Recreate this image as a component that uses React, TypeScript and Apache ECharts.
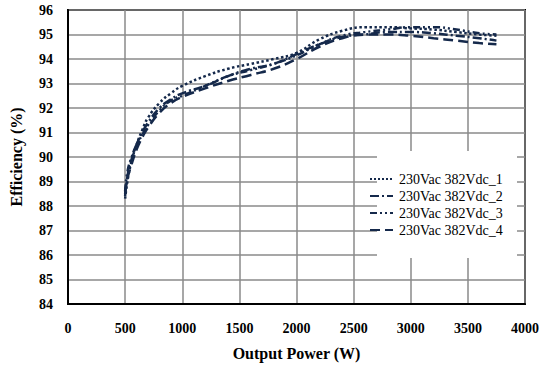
import React, { useEffect, useRef } from "react";
import * as echarts from "echarts";

const powerW = [500, 520, 550, 600, 650, 700, 800, 900, 1000, 1200, 1400, 1600, 1800, 2000, 2200, 2400, 2600, 2800, 3000, 3200, 3400, 3600, 3750];
const eff1 = [88.3, 89.0, 89.7, 90.5, 91.1, 91.6, 92.2, 92.6, 92.9, 93.3, 93.6, 93.8, 94.0, 94.25, 94.8, 95.15, 95.3, 95.3, 95.25, 95.2, 95.1, 95.0, 94.95];
const eff2 = [88.4, 89.2, 89.8, 90.5, 91.0, 91.4, 92.0, 92.35, 92.6, 92.9, 93.3, 93.6, 93.8, 94.2, 94.6, 94.9, 95.0, 95.1, 95.1, 95.05, 94.95, 94.85, 94.75];
const eff3 = [88.6, 89.4, 89.9, 90.5, 90.9, 91.3, 91.9, 92.3, 92.5, 92.9, 93.3, 93.55, 93.8, 94.15, 94.6, 94.95, 95.1, 95.2, 95.3, 95.3, 95.2, 95.05, 95.0];
const eff4 = [88.5, 89.1, 89.6, 90.3, 90.8, 91.2, 91.8, 92.2, 92.45, 92.8, 93.1, 93.35, 93.6, 94.0, 94.5, 94.85, 95.0, 95.0, 94.95, 94.85, 94.75, 94.65, 94.6];
const seriesNames = ["230Vac 382Vdc_1", "230Vac 382Vdc_2", "230Vac 382Vdc_3", "230Vac 382Vdc_4"];

const COLOR = "#15294b";
const FONT = "'Liberation Serif', 'Times New Roman', serif";

export default function App() {
  const ref = useRef<HTMLDivElement>(null);
  useEffect(() => {
    if (!ref.current) return;
    const chart = echarts.init(ref.current, undefined, { renderer: "svg" });
    const all = [eff1, eff2, eff3, eff4];
    const dashTypes: any[] = ["dotted", [9, 3, 2, 3], [7, 3, 2, 3, 2, 3], [10, 5]];
    chart.setOption({
      animation: false,
      textStyle: { fontFamily: FONT },
      grid: { left: 62, right: 25, top: 10, bottom: 54, show: true, borderColor: "#000", borderWidth: 2, backgroundColor: "transparent" },
      xAxis: {
        type: "value",
        min: 0,
        max: 4000,
        interval: 500,
        name: "Output Power (W)",
        nameLocation: "middle",
        nameGap: 41,
        nameTextStyle: { fontFamily: FONT, fontWeight: "bold", fontSize: 16, color: "#000" },
        axisLine: { show: true, lineStyle: { color: "#000", width: 2 } },
        axisTick: { show: false },
        axisLabel: { fontFamily: FONT, fontWeight: "bold", fontSize: 14, color: "#000", margin: 17, formatter: (v: number) => String(v) },
        splitLine: { show: true, lineStyle: { color: "#8a8a8a", width: 1.5 } },
      },
      yAxis: {
        type: "value",
        min: 84,
        max: 96,
        interval: 1,
        name: "Efficiency (%)",
        nameLocation: "middle",
        nameGap: 44,
        nameTextStyle: { fontFamily: FONT, fontWeight: "bold", fontSize: 16, color: "#000" },
        axisLine: { show: true, lineStyle: { color: "#000", width: 2 } },
        axisTick: { show: false },
        axisLabel: { fontFamily: FONT, fontWeight: "bold", fontSize: 14, color: "#000", margin: 15, formatter: (v: number) => String(v) },
        splitLine: { show: true, lineStyle: { color: "#8a8a8a", width: 1.5 } },
      },
      legend: {
        orient: "vertical",
        left: 369,
        top: 172,
        itemWidth: 23,
        itemHeight: 10,
        itemGap: 3,
        padding: 0,
        itemStyle: { opacity: 0 },
        textStyle: { fontFamily: FONT, fontSize: 14, lineHeight: 14, color: "#000", padding: [0, 0, 0, 1] },
        data: seriesNames,
      },
      graphic: [
        { type: "rect", z: 3, shape: { x: 377, y: 151, width: 140, height: 107 }, style: { fill: "#fff" } },
      ],
      series: all.map((d, i) => ({
        name: seriesNames[i],
        type: "line",
        symbol: "none",
        smooth: true,
        z: 2,
        data: powerW.map((p, j) => [p, d[j]]),
        lineStyle: { color: COLOR, width: 2.5, type: dashTypes[i] },
        itemStyle: { color: COLOR },
      })),
    });
    return () => chart.dispose();
  }, []);
  return <div ref={ref} style={{ width: 550, height: 366, position: "absolute", left: 0, top: 0, background: "#fff" }} />;
}
